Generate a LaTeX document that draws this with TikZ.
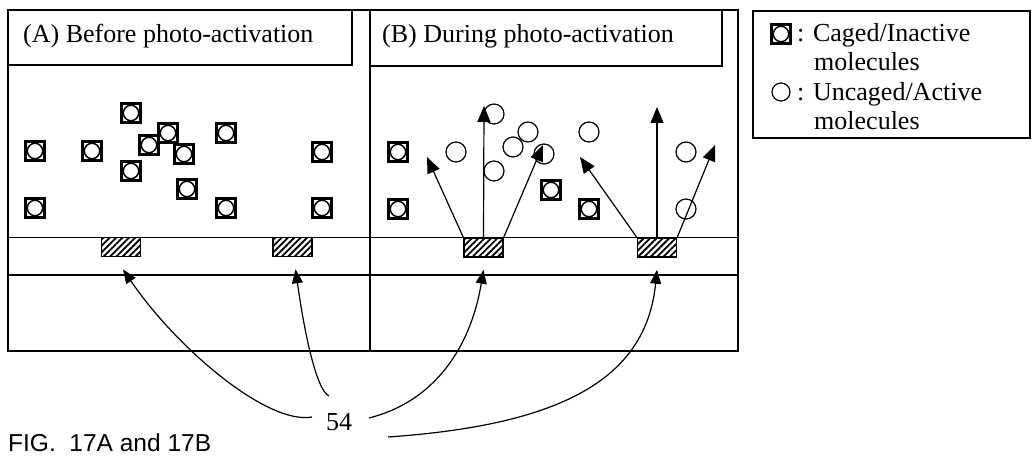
\documentclass[tikz,border=0pt]{standalone}
\usepackage{fontspec}
\setmainfont{Liberation Serif}
\newfontfamily\figfont{Liberation Sans}
\usetikzlibrary{arrows.meta,patterns.meta}

\begin{document}
\begin{tikzpicture}[x=1pt, y=-1pt,
    every node/.style={font=\fontsize{26}{29.5}\selectfont, inner sep=0pt},
    frame/.style={line width=1.5pt},
    caged/.style={draw, line width=2.2pt, minimum size=19pt,
      path picture={\draw[line width=1.4pt] (path picture bounding box.center) circle (7.7pt);}},
    uncaged/.style={draw, circle, line width=1.2pt, minimum size=20pt},
    site/.style={draw, line width=1.5pt, minimum width=39pt, minimum height=19pt,
      pattern={Lines[angle=45,distance=4.5pt,line width=1.8pt]}},
    ray/.style={line width=1.2pt, -{Triangle[length=16pt,width=13pt]}},
    lead/.style={line width=1.2pt, -{Triangle[length=14pt,width=11pt]}}]
  \useasboundingbox (0,0) rectangle (1035,462);

  % panels
  \draw[frame] (8,10) rectangle (738,351);
  \draw[frame] (370,10) -- (370,351);
  \draw[frame] (8,65) -| (352,10);
  \draw[frame] (370,66) -| (722,10);
  \draw[frame] (8,237.5) -- (738,237.5);
  \draw[frame] (8,275) -- (738,275);
  \node[anchor=west] (ttlA) at (23,36) {(A) Before photo-activation};
  \node[anchor=west] (ttlB) at (382,36) {(B) During photo-activation};

  % legend
  \draw[frame] (753,11) rectangle (1030,138);
  \node[caged] (keyA) at (781,34) {};
  \node[anchor=base west] (keyAtop) at (797,42) {: Caged/Inactive};
  \node[anchor=base west] (keyAbot) at (814,71) {molecules};
  \node[uncaged, minimum size=18pt] (keyB) at (781,92) {};
  \node[anchor=base west] (keyBtop) at (797,101) {: Uncaged/Active};
  \node[anchor=base west] (keyBbot) at (814,130) {molecules};

  % (A) caged molecules
  \foreach \x/\y [count=\i] in {131/113, 168/133, 149/145, 35/151, 92/151, 184/154,
      131/171, 187/189, 35/208, 226/133, 322/152, 226/208, 322/208}
    \node[caged] (ca\i) at (\x,\y) {};

  % (B) caged and uncaged molecules
  \foreach \x/\y [count=\i] in {398/152, 398/209, 551/190, 589/209}
    \node[caged] (cb\i) at (\x,\y) {};
  \foreach \x/\y [count=\i] in {456/152, 494/114, 494/171, 513/147, 528/132,
      544/154, 589/132, 686/152, 686/209}
    \node[uncaged] (ub\i) at (\x,\y) {};

  % light sites
  \node[site] (s1) at (121,247) {};
  \node[site] (s2) at (292.5,247) {};
  \node[site] (s3) at (483.5,247.5) {};
  \node[site] (s4) at (657,247.5) {};

  % release
  \coordinate (r1) at (427,157);
  \coordinate (r2) at (484,106);
  \coordinate (r3) at (543,145);
  \coordinate (r4) at (580,157);
  \coordinate (r5) at (657,107);
  \coordinate (r6) at (715,145);
  \draw[ray] (s3.north west) -- (r1);
  \draw[ray] (s3.north) -- (r2);
  \draw[ray] (s3.north east) -- (r3);
  \draw[ray] (s4.north west) -- (r4);
  \draw[ray] (s4.north) -- (r5);
  \draw[ray] (s4.north east) -- (r6);

  % reference numeral
  \node (lbl) at (339,422) {54};
  \coordinate (c1) at (312,417);
  \coordinate (c2) at (329,396);
  \coordinate (c3) at (369,418);
  \coordinate (c4) at (388,437);
  \draw[lead] (c1) .. controls (268,425) and (178,350) .. ([xshift=2pt,yshift=-12pt]s1.south);
  \draw[lead] (c2) .. controls (316,390) and (304,330) .. ([xshift=3pt,yshift=-12pt]s2.south);
  \draw[lead] (c3) .. controls (440,400) and (472,340) .. ([yshift=-12pt]s3.south);
  \draw[lead] (c4) .. controls (560,425) and (646,380) .. ([yshift=-12pt]s4.south);

  \node[anchor=west, font=\figfont\fontsize{24.5}{28}\selectfont] (fig) at (8,443) {FIG.\ \ 17A and 17B};
\end{tikzpicture}
\end{document}
